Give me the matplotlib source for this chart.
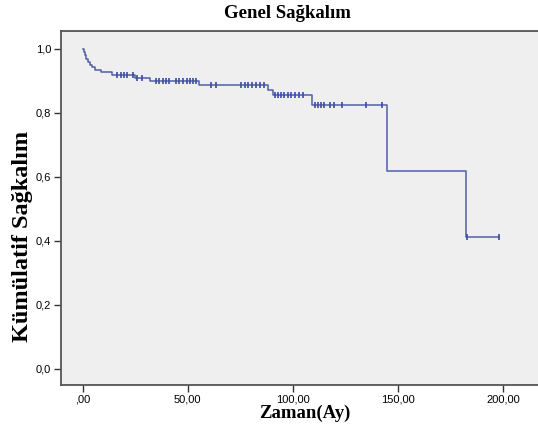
import numpy as np
import matplotlib.pyplot as plt

# Kaplan-Meier estimate: event times (months) and survival after each event
event_times = [0.5, 1.0, 1.5, 2.5, 3.5, 4.5, 6.0, 8.5, 14.0, 25.0, 32.0,
               55.5, 88.0, 90.5, 109.0, 145.0, 182.5]
surv_values = [0.99, 0.98, 0.97, 0.96, 0.95, 0.943, 0.935, 0.927, 0.917,
               0.909, 0.900, 0.888, 0.872, 0.857, 0.826, 0.619, 0.413]

# censored follow-up times (months)
censor_times = [16.5, 18, 19.5, 21, 24, 26, 28, 35, 36.5, 38, 39.5, 41, 44.5,
                46, 47.5, 49.5, 51, 52.5, 54, 61, 63.5, 75.5, 77, 78.5, 80.5,
                82.5, 84.5, 86.5, 91.5, 93, 94.5, 96, 97.5, 99, 101, 103, 105,
                110.5, 112, 113.5, 115, 117.5, 119.5, 123.5, 135, 142.5,
                183, 198]

xticks = [0, 50, 100, 150, 200]
xticklabels = [',00', '50,00', '100,00', '150,00', '200,00']
yticks = [0.0, 0.2, 0.4, 0.6, 0.8, 1.0]
yticklabels = ['0,0', '0,2', '0,4', '0,6', '0,8', '1,0']

line_col = '#4f5fa6'
mark_col = '#3c4da0'

fig = plt.figure(figsize=(5.38, 4.29), dpi=100)
ax = fig.add_axes([61 / 538, 1 - 385 / 429, (548 - 61) / 538, (385 - 31) / 429])
ax.set_facecolor('#efefef')

# step curve from t=0 up to the last follow-up
t_all = np.concatenate([[0.0], event_times, [max(censor_times)]])
s_all = np.concatenate([[1.0], surv_values, [surv_values[-1]]])
ax.step(t_all, s_all, where='post', color=line_col, lw=1.1)

# survival level at each censored time
idx = np.searchsorted(event_times, censor_times, side='right')
s_cens = np.concatenate([[1.0], surv_values])[idx]
ax.plot(censor_times, s_cens, ls='none', marker='|', ms=5, mew=1.2,
        color=mark_col)

ax.set_xlim(-10.4, 221.5)
ax.set_ylim(-0.05, 1.056)
ax.set_xticks(xticks)
ax.set_xticklabels(xticklabels, family='Liberation Sans', fontsize=8)
ax.set_yticks(yticks)
ax.set_yticklabels(yticklabels, family='Liberation Sans', fontsize=8)
ax.tick_params(direction='out', length=5, width=1, color='#333333', pad=2)

for sp in ax.spines.values():
    sp.set_color('#555555')
    sp.set_linewidth(1.3)

fig.text(287 / 538, 1 - 13 / 429, 'Genel Sağkalım', family='Liberation Serif',
         fontweight='bold', fontsize=13.5, ha='center', va='center')
ax.set_xlabel('Zaman(Ay)', family='Liberation Serif', fontweight='bold',
              fontsize=13.5, labelpad=0)
ax.set_ylabel('Kümülatif Sağkalım', family='Liberation Serif',
              fontweight='bold', fontsize=17.5)
ax.yaxis.set_label_coords(-0.057, 0.42)

fig.savefig('out.png', dpi=100)
